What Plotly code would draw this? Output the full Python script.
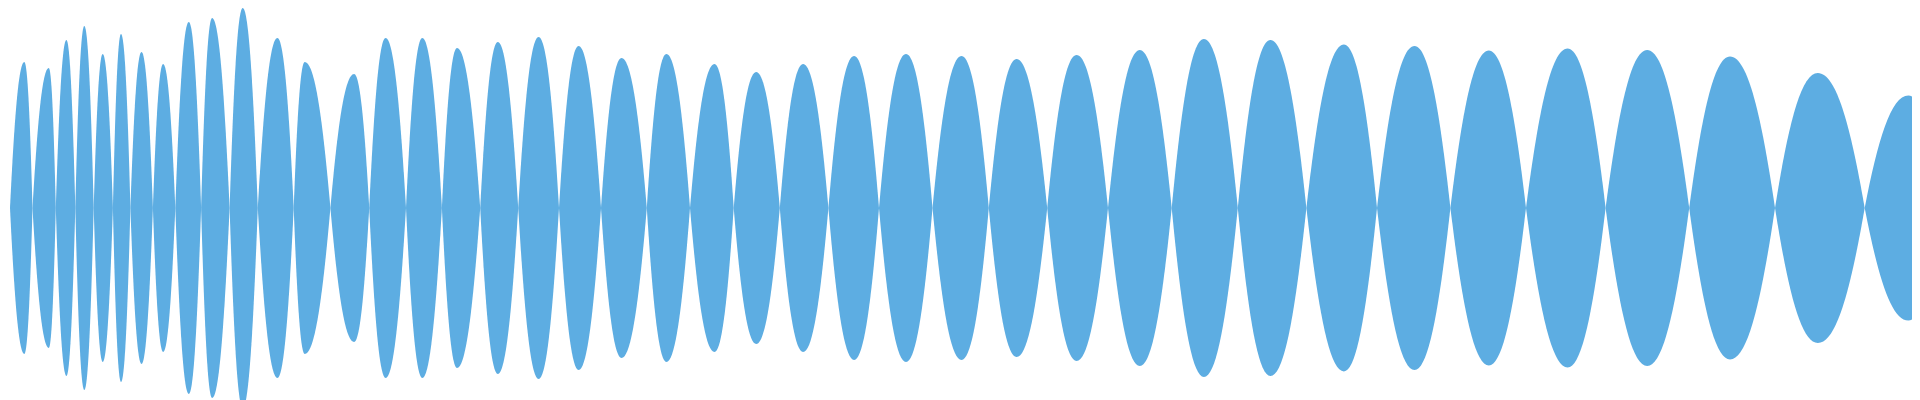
import plotly.graph_objects as go

# zero crossings (sample position) of the waveform envelope
crossings = [2, 24.5, 47.8, 67.3, 85.7, 104.9, 122.4, 144.9, 167.3, 193.1, 221.6, 249.8,
             285.7, 322.4, 361.2, 398, 433.9, 472.2, 510.2, 551, 593, 638.8,
             682, 725.7, 771.8, 820.4, 871, 924.5, 980.8, 1039.2, 1100, 1163.7, 1229.8,
             1298.4, 1369, 1442.4, 1518, 1597.6, 1681.2, 1767, 1856.7, 1920]
# peak positions and normalized amplitudes of each lobe
peak_pos = [16.3, 40.8, 58.4, 76.3, 94.7, 113, 133.5, 155.1, 180.8, 204.1, 234.7,
            269.4, 296.7, 346.1, 377.6, 414.3, 449, 489.8, 530.6, 570.6, 613.5,
            658.4, 706.5, 748.2, 795.1, 846.1, 898, 953.5, 1008.6, 1068.6, 1131.8, 1195.9, 1262.4,
            1335.9, 1406.5, 1480.8, 1559.6, 1639.2, 1722, 1809.8, 1900.4]
peak_amp = [.73, .70, .84, .91, .77, .87, .78, .72, .93, .95, 1.0, .85, .73, .67, .85, .85,
            .80, .83, .855, .81, .75,
            .77, .72, .68, .72, .76, .77, .76, .745, .765, .79, .845, .84,
            .817, .81, .787, .797, .79, .757, .675, .563]
end_amp = 0.48  # amplitude where the clip is cut at the right edge

color = "#5dade2"
fig = go.Figure()
fig.add_trace(go.Scatter(x=[0, 1920], y=[0, 0], mode="lines",
                         line=dict(width=0), hoverinfo="skip", showlegend=False))

shapes = []
n = len(peak_pos)
for i in range(n):
    x0, x1, p, a = crossings[i], crossings[i + 1], peak_pos[i], peak_amp[i]
    ye = end_amp if i == n - 1 else 0
    w1, w2 = p - x0, x1 - p
    k, c1, c2 = 0.6, 0.3, 0.4
    path = (f"M {x0},0 C {x0 + c1*w1},{a*k} {p - c2*w1},{a} {p},{a} "
            f"C {p + c2*w2},{a} {x1 - c1*w2},{max(a*k, ye)} {x1},{ye} "
            f"L {x1},{-ye} "
            f"C {x1 - c1*w2},{-max(a*k, ye)} {p + c2*w2},{-a} {p},{-a} "
            f"C {p - c2*w1},{-a} {x0 + c1*w1},{-a*k} {x0},0 Z")
    shapes.append(dict(type="path", path=path, xref="x", yref="y",
                       fillcolor=color, line=dict(width=0), layer="above"))

fig.update_layout(
    width=1920, height=400, margin=dict(l=0, r=0, t=0, b=0),
    paper_bgcolor="white", plot_bgcolor="white", shapes=shapes,
    xaxis=dict(range=[0, 1920], visible=False),
    yaxis=dict(range=[-1, 1], visible=False),
)
fig.write_html("out.html")
